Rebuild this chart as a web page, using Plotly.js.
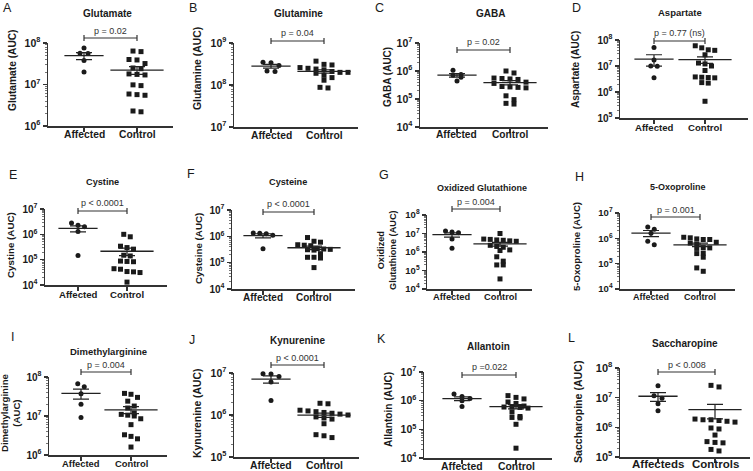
<!DOCTYPE html>
<html><head><meta charset="utf-8">
<script src="https://cdn.plot.ly/plotly-3.0.1.min.js"></script>
<style>html,body{margin:0;padding:0;background:#fff}#chart{width:753px;height:471px}</style>
</head><body><div id="chart"></div>
<script>
// ---------- DATA ----------
const groupLabels = ['Affected', 'Control'];
const groupLabelsL = ['Affecteds', 'Controls'];
const panelLetters = ['A','B','C','D','E','F','G','H','I','J','K','L'];
const metabolites = ['Glutamate','Glutamine','GABA','Aspartate','Cystine','Cysteine','Oxidized Glutathione','5-Oxoproline','Dimethylarginine','Kynurenine','Allantoin','Saccharopine'];
const yLabels = ['Glutamate (AUC)','Glutamine (AUC)','GABA (AUC)','Aspartate (AUC)','Cystine (AUC)','Cysteine (AUC)','Oxidized<br>Glutathione (AUC)','5-Oxoproline (AUC)','Dimethylarginine<br>(AUC)','Kynurenine (AUC)','Allantoin (AUC)','Saccharopine (AUC)'];
const pLabels = ['p = 0.02','p = 0.04','p = 0.02','p = 0.77 (ns)','p < 0.0001','p < 0.0001','p = 0.004','p = 0.001','p = 0.004','p < 0.0001','p =0.022','p < 0.008'];
const yExpLow  = [6,7,4,5,4,4,4,4,6,5,4,5];
const yExpHigh = [8,9,7,8,7,7,8,7,8,7,7,8];

const glutamateAffected = [7.6e7, 5.7e7, 5.6e7, 3.8e7, 2.0e7];
const glutamateControl = [6.4e7, 6.2e7, 4.0e7, 3.9e7, 3.2e7, 2.5e7, 2.4e7, 1.8e7, 1.75e7, 1.7e7, 9.8e6, 9.4e6, 5.9e6, 5.7e6, 5.5e6, 2.3e6, 2.2e6];
const glutamineAffected = [3.5e8, 3.4e8, 2.9e8, 2.15e8, 2.1e8];
const glutamineControl = [3.7e8, 3.1e8, 3.0e8, 2.6e8, 2.5e8, 2.4e8, 2.3e8, 2.1e8, 2.0e8, 2.0e8, 1.9e8, 1.7e8, 1.5e8, 1.3e8, 8.8e7, 8.5e7];
const gabaAffected = [1.06e6, 7.5e5, 7.0e5, 6.0e5, 4.4e5];
const gabaControl = [1.0e6, 8.5e5, 5.6e5, 5.4e5, 5.2e5, 5.0e5, 4.0e5, 3.6e5, 2.8e5, 2.7e5, 2.6e5, 2.5e5, 1.3e5, 9.5e4, 7.0e4, 6.6e4];
const aspartateAffected = [5.2e7, 1.7e7, 1.0e7, 9.8e6, 3.5e6];
const aspartateControl = [6.0e7, 5.0e7, 4.2e7, 4.0e7, 2.7e7, 1.3e7, 1.2e7, 1.0e7, 6.7e6, 3.8e6, 3.7e6, 3.6e6, 3.5e6, 2.3e6, 2.2e6, 4.4e5];
const cystineAffected = [2.8e6, 2.3e6, 2.0e6, 1.3e6, 1.45e5];
const cystineControl = [1.0e6, 8.0e5, 3.4e5, 3.0e5, 2.6e5, 1.5e5, 1.4e5, 8.8e4, 8.5e4, 8.3e4, 4.4e4, 4.2e4, 3.4e4, 3.3e4, 3.1e4, 1.3e4];
const cysteineAffected = [1.35e6, 1.3e6, 1.25e6, 1.1e6, 3.4e5];
const cysteineControl = [9.0e5, 6.5e5, 6.0e5, 4.8e5, 4.6e5, 4.4e5, 3.4e5, 3.3e5, 3.2e5, 3.1e5, 3.0e5, 2.2e5, 1.6e5, 1.6e5, 1.5e5, 6.5e4];
const gssgAffected = [1.35e7, 1.2e7, 1.1e7, 5.0e6, 1.6e6];
const gssgControl = [1.0e7, 5.0e6, 4.8e6, 4.5e6, 4.3e6, 4.0e6, 3.8e6, 2.3e6, 2.0e6, 1.8e6, 1.3e6, 1.2e6, 5.5e5, 3.2e5, 2.0e5, 2.0e5, 3.5e4];
const oxoprolineAffected = [2.8e6, 2.3e6, 1.6e6, 7.6e5, 5.6e5];
const oxoprolineControl = [1.1e6, 1.05e6, 9.5e5, 9.0e5, 9.0e5, 7.0e5, 6.5e5, 6.0e5, 4.3e5, 4.2e5, 4.0e5, 2.6e5, 2.5e5, 1.8e5, 6.8e4, 5.0e4];
const dmaAffected = [6.7e7, 5.6e7, 3.7e7, 2.0e7, 9.1e6];
const dmaControl = [3.8e7, 3.6e7, 3.0e7, 2.4e7, 1.8e7, 1.6e7, 1.2e7, 1.1e7, 1.05e7, 1.0e7, 8.5e6, 6.0e6, 3.3e6, 3.0e6, 2.6e6, 1.6e6];
const kynurenineAffected = [9.6e6, 9.5e6, 8.3e6, 6.1e6, 2.2e6];
const kynurenineControl = [1.9e6, 1.85e6, 1.3e6, 1.25e6, 1.2e6, 1.15e6, 1.1e6, 1.05e6, 1.0e6, 9.0e5, 8.5e5, 8.0e5, 6.2e5, 3.4e5, 3.2e5, 2.9e5];
const allantoinAffected = [1.7e6, 1.4e6, 1.2e6, 1.0e6, 6.3e5];
const allantoinControl = [1.5e6, 1.3e6, 1.15e6, 9.0e5, 8.0e5, 6.5e5, 6.0e5, 6.0e5, 5.8e5, 5.5e5, 4.0e5, 2.8e5, 2.6e5, 2.5e5, 1.5e5, 2.2e4];
const saccharopineAffected = [2.5e7, 1.15e7, 9.6e6, 6.2e6, 3.6e6];
const saccharopineControl = [2.6e7, 2.3e7, 1.9e6, 1.8e6, 1.8e6, 1.7e6, 1.6e6, 1.5e6, 9.5e5, 8.8e5, 5.5e5, 3.3e5, 3.1e5, 3.0e5, 1.8e5, 1.6e5];

const affectedSeries = [glutamateAffected, glutamineAffected, gabaAffected, aspartateAffected, cystineAffected, cysteineAffected, gssgAffected, oxoprolineAffected, dmaAffected, kynurenineAffected, allantoinAffected, saccharopineAffected];
const controlSeries = [glutamateControl, glutamineControl, gabaControl, aspartateControl, cystineControl, cysteineControl, gssgControl, oxoprolineControl, dmaControl, kynurenineControl, allantoinControl, saccharopineControl];

// ---------- LAYOUT (pixel geometry & styles) ----------
// xl/xr: x-axis extent, yt/yb: y-axis extent, xa/xc: category centres, cy: category label centre
const geom = [
 {xl:48, xr:173, yt:43, yb:126, xa:84, xc:137, cy:135, title:[107,14], letter:[7,8], ylab:[13,70], br:38, pt:31, ts:10, cs:10.3, ks:10.5, ls:10.2},
 {xl:234, xr:358, yt:43, yb:127, xa:271, xc:324, cy:136, title:[298,14], letter:[193,8], ylab:[198,69], br:41, pt:33, ts:10, cs:10.3, ks:10.5, ls:10.4},
 {xl:420, xr:548, yt:43, yb:127, xa:457, xc:510, cy:135, title:[490,14], letter:[379,8], ylab:[388,77], br:50, pt:42, ts:10, cs:10.2, ks:10.5, ls:10},
 {xl:620, xr:748, yt:40, yb:118, xa:654, xc:705, cy:128, title:[680,13], letter:[576,8], ylab:[576,70], br:41, pt:33, ts:9.5, cs:9.6, ks:10, ls:10},
 {xl:45, xr:167, yt:209, yb:285, xa:78, xc:127, cy:294, title:[102,182], letter:[13,175], ylab:[10,245], br:211, pt:203, ts:9.2, cs:9.6, ks:10, ls:9.8},
 {xl:232, xr:355, yt:210, yb:289, xa:263, xc:314, cy:297, title:[288,182], letter:[191,174], ylab:[198,249], br:212, pt:204, ts:9.2, cs:10, ks:10, ls:9.8},
 {xl:427, xr:532, yt:215, yb:289, xa:452, xc:500, cy:297, title:[482,188], letter:[384,175], ylab:[387,250], br:209, pt:202, ts:9, cs:9.3, ks:9.5, ls:9.2},
 {xl:620, xr:735, yt:213, yb:289, xa:651, xc:700, cy:297, title:[678,187], letter:[579,177], ylab:[576,247], br:217, pt:210, ts:9, cs:9, ks:9.5, ls:9.6},
 {xl:49, xr:167, yt:377, yb:455, xa:81, xc:131, cy:463, title:[108,351], letter:[13,337], ylab:[10,413], br:372, pt:365, ts:9.5, cs:9.4, ks:10, ls:9.6},
 {xl:234, xr:359, yt:373, yb:457, xa:271, xc:324, cy:465, title:[297,340], letter:[192,340], ylab:[197,414], br:365, pt:358, ts:10, cs:10.4, ks:10.5, ls:10.4},
 {xl:424, xr:552, yt:372, yb:458, xa:462, xc:516, cy:466, title:[488,346], letter:[381,339], ylab:[388,410], br:375, pt:367, ts:10, cs:10.4, ks:10.5, ls:10.2},
 {xl:620, xr:750, yt:368, yb:457, xa:658, xc:715, cy:464, title:[685,343], letter:[571,338], ylab:[578,412], br:372, pt:365, ts:10, cs:11.5, ks:11, ls:10.6}
];

const W = 753, H = 471;
const INK = '#1a1a1a';
const FONT = 'Liberation Sans, Arial, Helvetica, sans-serif';
const traces = [];
const layout = {
  width: W, height: H, margin: {l:0, r:0, t:0, b:0},
  paper_bgcolor: '#fff', plot_bgcolor: 'rgba(0,0,0,0)',
  showlegend: false, font: {family: FONT, color: INK},
  annotations: [], shapes: []
};

function mean(a){ return a.reduce((s,v)=>s+v,0)/a.length; }
function sem(a){ const m=mean(a); const v=a.reduce((s,x)=>s+(x-m)*(x-m),0)/(a.length-1); return Math.sqrt(v/a.length); }

// simple row-based beeswarm in pixel space -> returns x offsets (data units)
function swarm(vals, g, lo, hi, unit, spacingPx){
  const pxPerDec = (g.yb - g.yt)/(hi - lo);
  const idx = vals.map((v,i)=>({i, py: g.yb - (Math.log10(v)-lo)*pxPerDec})).sort((a,b)=>a.py-b.py);
  const off = new Array(vals.length).fill(0);
  let row = [];
  const flush = () => {
    const n = row.length;
    row.forEach((p,k)=>{ off[p.i] = (k - (n-1)/2) * spacingPx / unit; });
    row = [];
  };
  idx.forEach(p=>{
    if(row.length && p.py - row[0].py > 5) flush();
    row.push(p);
  });
  flush();
  return off;
}

geom.forEach((g, i) => {
  const k = i === 0 ? '' : String(i+1);
  const xName = 'x'+k, yName = 'y'+k;
  const unit = g.xc - g.xa;
  const r0 = 1 - (g.xa - g.xl)/unit, r1 = 2 + (g.xr - g.xc)/unit;
  const lo = yExpLow[i], hi = yExpHigh[i];
  const tv = [], tt = [], mv = [];
  for (let e = lo; e <= hi; e++) {
    tv.push(Math.pow(10, e));
    tt.push('<b>10<sup>' + e + '</sup></b>');
    if (e < hi) for (let m = 2; m <= 9; m++) mv.push(m*Math.pow(10, e));
  }
  const cats = (i === 11 ? groupLabelsL : groupLabels);
  layout['xaxis'+k] = {
    domain: [g.xl/W, g.xr/W], range: [r0, r1], anchor: yName,
    tickmode: 'array', tickvals: [1,2], showticklabels: false,
    ticks: 'outside', ticklen: 4, tickwidth: 1.2, tickcolor: '#333',
    showline: true, linecolor: '#333', linewidth: 1.5,
    showgrid: false, zeroline: false, fixedrange: true
  };
  layout['yaxis'+k] = {
    domain: [1 - g.yb/H, 1 - g.yt/H], type: 'log', range: [lo, hi], anchor: xName,
    tickmode: 'array', tickvals: tv, ticktext: tt,
    ticks: 'outside', ticklen: 4, tickwidth: 1.2, tickcolor: '#333',
    minor: {tickmode: 'array', tickvals: mv, ticks: 'outside', ticklen: 2, tickwidth: 0.8, tickcolor: '#555', showgrid: false},
    showline: true, linecolor: '#333', linewidth: 1.5,
    showgrid: false, zeroline: false, fixedrange: true,
    tickfont: {size: g.ks, color: INK, family: FONT}
  };

  const series = [affectedSeries[i], controlSeries[i]];
  const spacing = (g.yb - g.yt) < 80 ? 6.5 : 8;
  series.forEach((vals, gi) => {
    const offs = swarm(vals, g, lo, hi, unit, spacing);
    traces.push({
      type: 'scatter', mode: 'markers', xaxis: xName, yaxis: yName,
      x: vals.map((v, j) => gi + 1 + offs[j]), y: vals,
      marker: {symbol: gi === 0 ? 'circle' : 'square', size: 5, color: INK, line: {width: 0}},
      cliponaxis: false, hoverinfo: 'skip'
    });
    const m = mean(vals), s = sem(vals);
    traces.push({
      type: 'scatter', mode: 'markers', xaxis: xName, yaxis: yName,
      x: [gi + 1], y: [m],
      marker: {symbol: 'line-ew', size: gi === 0 ? 28 : 38, color: '#222', line: {width: 1.3, color: '#222'}},
      error_y: {type: 'data', symmetric: false, array: [s], arrayminus: [s], width: 8, thickness: 1.2, color: '#222'},
      cliponaxis: false, hoverinfo: 'skip'
    });
  });

  // significance bracket
  const by = 1 - g.br/H, cap = 3/H;
  layout.shapes.push({type:'line', xref:xName, yref:'paper', x0:1, x1:2, y0:by, y1:by, line:{color:'#333', width:1.2}});
  layout.shapes.push({type:'line', xref:xName, yref:'paper', x0:1, x1:1, y0:by-cap, y1:by+cap, line:{color:'#333', width:1.2}});
  layout.shapes.push({type:'line', xref:xName, yref:'paper', x0:2, x1:2, y0:by-cap, y1:by+cap, line:{color:'#333', width:1.2}});

  const ann = layout.annotations;
  cats.forEach((c, ci) => {
    ann.push({xref:xName, yref:'paper', x:ci+1, y:1 - g.cy/H, text:'<b>'+c+'</b>', showarrow:false, xanchor:'center', yanchor:'middle', font:{size:g.cs, color:INK, family:FONT}});
  });
  ann.push({xref:'paper', yref:'paper', x:(g.xa+g.xc)/2/W, y:1 - g.pt/H, text:pLabels[i], showarrow:false, xanchor:'center', yanchor:'middle', font:{size:9, color:'#333', family:FONT}});
  ann.push({xref:'paper', yref:'paper', x:g.title[0]/W, y:1 - g.title[1]/H, text:'<b>'+metabolites[i]+'</b>', showarrow:false, xanchor:'center', yanchor:'middle', font:{size:g.ts, color:INK, family:FONT}});
  ann.push({xref:'paper', yref:'paper', x:g.letter[0]/W, y:1 - g.letter[1]/H, text:panelLetters[i], showarrow:false, xanchor:'center', yanchor:'middle', font:{size:12.5, color:INK, family:FONT}});
  ann.push({xref:'paper', yref:'paper', x:g.ylab[0]/W, y:1 - g.ylab[1]/H, text:'<b>'+yLabels[i]+'</b>', textangle:-90, showarrow:false, xanchor:'center', yanchor:'middle', font:{size:g.ls, color:INK, family:FONT}});
});

Plotly.newPlot('chart', traces, layout, {staticPlot: true, displayModeBar: false});
</script>
</body></html>
